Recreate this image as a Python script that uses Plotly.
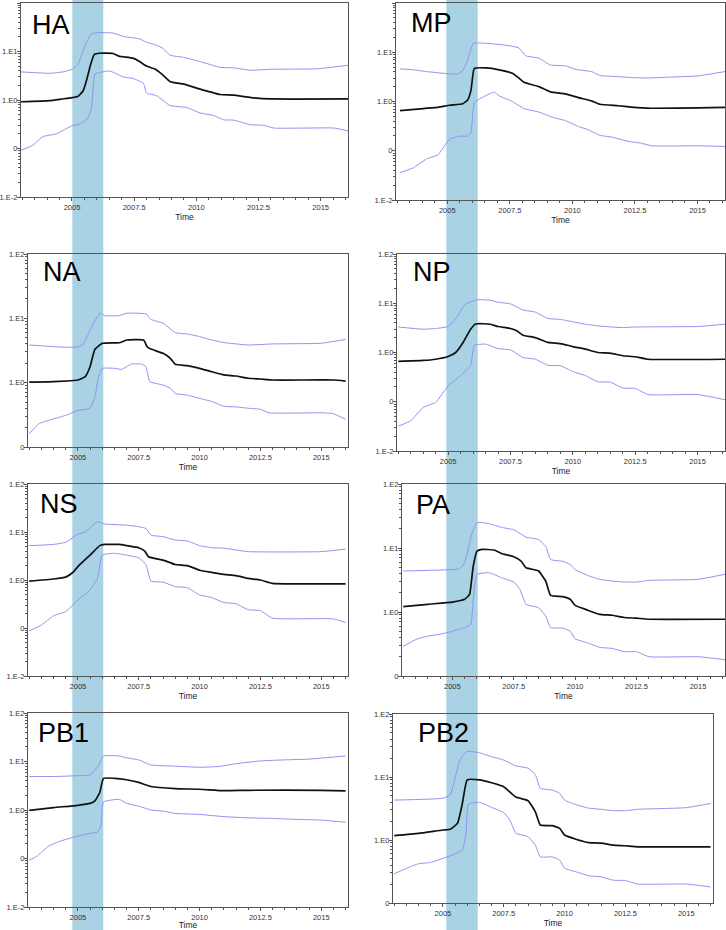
import plotly.graph_objects as go

# Bayesian skyline plots, one panel per influenza segment
W, H = 726, 930

PANELS = ["HA", "MP", "NA", "NP", "NS", "PA", "PB1", "PB2"]

# (time, value) pairs: upper 95% HPD, median, lower 95% HPD
HA_UPPER = [(2002.95, 3.8), (2004.1, 3.55), (2004.64, 3.8), (2005.0, 4.3), (2005.24, 5.4),
            (2005.51, 12.8), (2005.78, 23.3), (2006.12, 24.5), (2006.66, 24.0), (2007.06, 20.5),
            (2007.73, 18.1), (2008.0, 15.5), (2008.4, 13.5), (2008.67, 11.5), (2008.94, 8.4),
            (2009.48, 7.6), (2010.15, 6.2), (2010.96, 4.7), (2011.5, 4.6), (2012.17, 4.1),
            (2012.98, 4.3), (2014.87, 4.4), (2016.1, 5.2)]
HA_MEDIAN = [(2002.95, 0.92), (2004.1, 0.97), (2004.6, 1.05), (2005.0, 1.12), (2005.25, 1.2),
             (2005.45, 1.55), (2005.6, 2.7), (2005.75, 5.4), (2005.9, 8.7), (2006.1, 9.2),
             (2006.65, 9.1), (2006.9, 8.0), (2007.45, 7.3), (2007.7, 6.3), (2008.0, 5.0),
             (2008.35, 4.3), (2008.65, 3.3), (2008.95, 2.37), (2009.5, 2.12), (2010.15, 1.68),
             (2010.95, 1.3), (2011.5, 1.26), (2012.2, 1.12), (2013.0, 1.05), (2016.1, 1.05)]
HA_LOWER = [(2002.95, 0.092), (2003.43, 0.117), (2003.83, 0.176), (2004.37, 0.2), (2005.0, 0.295),
            (2005.31, 0.32), (2005.61, 0.41), (2005.78, 0.65), (2005.92, 3.4), (2006.12, 3.7),
            (2006.52, 3.96), (2007.06, 3.0), (2007.46, 2.77), (2007.87, 2.22), (2008.0, 1.39),
            (2008.4, 1.23), (2008.94, 0.77), (2009.62, 0.7), (2010.15, 0.54), (2010.69, 0.48),
            (2011.1, 0.39), (2011.5, 0.385), (2012.17, 0.31), (2012.71, 0.3), (2013.12, 0.264),
            (2015.54, 0.264), (2016.1, 0.23)]

MP_UPPER = [(2003.11, 4.6), (2003.64, 4.4), (2004.17, 4.05), (2005.09, 3.64), (2005.42, 3.64),
            (2005.62, 4.25), (2005.82, 7.0), (2006.04, 15.2), (2006.55, 15.2), (2007.34, 13.9),
            (2007.87, 12.2), (2008.13, 8.5), (2008.66, 7.6), (2009.12, 5.5), (2009.72, 5.3),
            (2010.11, 4.5), (2010.77, 4.05), (2011.1, 3.37), (2011.83, 3.2), (2012.36, 3.07),
            (2013.02, 3.0), (2013.68, 3.1), (2015.0, 3.3), (2016.1, 4.05)]
MP_MEDIAN = [(2003.11, 0.65), (2004.04, 0.72), (2004.63, 0.76), (2005.09, 0.84), (2005.62, 0.9),
             (2005.82, 1.08), (2005.95, 1.72), (2006.08, 4.7), (2006.55, 4.8), (2007.07, 4.4),
             (2007.6, 3.75), (2007.87, 2.97), (2008.06, 2.46), (2008.66, 2.0), (2009.12, 1.57),
             (2009.72, 1.43), (2010.24, 1.2), (2010.77, 1.03), (2011.1, 0.88), (2011.83, 0.82),
             (2012.36, 0.77), (2013.15, 0.73), (2016.1, 0.76)]
MP_LOWER = [(2003.11, 0.036), (2003.64, 0.045), (2004.17, 0.068), (2004.63, 0.083), (2005.09, 0.172),
            (2005.49, 0.198), (2005.82, 0.198), (2005.95, 0.236), (2006.08, 0.95), (2006.41, 1.22),
            (2006.88, 1.55), (2007.07, 1.3), (2007.6, 1.0), (2008.06, 0.72), (2008.66, 0.61),
            (2009.19, 0.48), (2009.72, 0.41), (2010.24, 0.31), (2010.64, 0.266), (2011.1, 0.205),
            (2011.57, 0.19), (2012.23, 0.155), (2012.75, 0.143), (2013.15, 0.126), (2015.0, 0.126),
            (2016.1, 0.122)]

NA_UPPER = [(2003.0, 3.85), (2004.5, 3.55), (2005.0, 3.6), (2005.2, 3.85), (2005.5, 6.5),
            (2005.9, 12.0), (2006.1, 11.0), (2006.7, 11.0), (2007.0, 12.0), (2007.8, 11.7),
            (2008.0, 9.6), (2008.5, 8.4), (2009.0, 6.0), (2009.5, 5.7), (2010.0, 5.2),
            (2010.5, 4.6), (2011.0, 4.2), (2012.0, 3.85), (2013.0, 4.0), (2015.0, 4.1), (2016.0, 4.7)]
NA_MEDIAN = [(2003.0, 1.02), (2004.0, 1.04), (2005.0, 1.1), (2005.3, 1.24), (2005.5, 1.77),
             (2005.7, 3.3), (2006.0, 4.08), (2006.7, 4.17), (2007.0, 4.6), (2007.7, 4.6),
             (2007.85, 3.6), (2008.0, 3.33), (2008.5, 2.86), (2008.8, 2.39), (2009.0, 1.93),
             (2009.5, 1.84), (2010.0, 1.67), (2010.5, 1.48), (2011.0, 1.32), (2011.5, 1.27),
             (2012.0, 1.17), (2012.5, 1.14), (2013.0, 1.1), (2015.5, 1.1), (2016.0, 1.06)]
NA_LOWER = [(2003.0, 0.16), (2003.4, 0.23), (2003.8, 0.26), (2004.5, 0.31), (2005.0, 0.37),
            (2005.5, 0.4), (2005.7, 0.6), (2005.85, 1.24), (2006.0, 1.67), (2006.5, 1.67),
            (2006.8, 1.61), (2007.2, 1.95), (2007.6, 1.95), (2007.8, 1.77), (2007.95, 1.04),
            (2008.5, 0.92), (2008.8, 0.82), (2009.0, 0.68), (2009.5, 0.64), (2010.0, 0.57),
            (2010.5, 0.51), (2011.0, 0.43), (2011.5, 0.42), (2012.0, 0.4), (2012.5, 0.385),
            (2012.85, 0.34), (2015.0, 0.34), (2015.5, 0.33), (2016.0, 0.27)]

NP_UPPER = [(2003.0, 3.3), (2004.0, 2.97), (2004.5, 3.07), (2005.0, 3.37), (2005.3, 4.8),
            (2005.7, 9.7), (2006.2, 11.8), (2006.7, 11.5), (2007.0, 10.5), (2007.5, 9.7),
            (2008.0, 7.3), (2008.5, 6.6), (2009.0, 4.9), (2009.5, 4.7), (2010.0, 4.2),
            (2010.5, 3.75), (2011.0, 3.47), (2012.0, 3.2), (2012.5, 3.3), (2015.0, 3.37), (2016.1, 3.75)]
NP_MEDIAN = [(2003.0, 0.66), (2004.0, 0.69), (2004.5, 0.73), (2005.0, 0.83), (2005.3, 1.0),
             (2005.6, 1.6), (2005.9, 2.97), (2006.1, 3.8), (2006.7, 3.75), (2007.0, 3.37),
             (2007.5, 3.07), (2007.75, 2.75), (2008.0, 2.25), (2008.5, 2.0), (2009.0, 1.6),
             (2009.5, 1.52), (2010.0, 1.32), (2010.5, 1.17), (2011.0, 1.0), (2011.5, 0.97),
             (2012.0, 0.86), (2012.5, 0.82), (2013.0, 0.73), (2016.1, 0.73)]
NP_LOWER = [(2003.0, 0.032), (2003.5, 0.041), (2004.0, 0.077), (2004.5, 0.097), (2005.0, 0.21),
            (2005.5, 0.34), (2005.9, 0.54), (2006.05, 1.4), (2006.5, 1.48), (2007.0, 1.2),
            (2007.5, 1.13), (2008.0, 0.79), (2008.5, 0.73), (2009.0, 0.55), (2009.5, 0.54),
            (2010.0, 0.41), (2010.5, 0.34), (2011.0, 0.255), (2011.5, 0.25), (2012.0, 0.19),
            (2012.5, 0.187), (2013.0, 0.14), (2015.0, 0.14), (2016.1, 0.11)]

NS_UPPER = [(2003.0, 5.2), (2004.0, 5.5), (2004.5, 6.1), (2005.0, 9.0), (2005.3, 10.0),
            (2005.8, 16.4), (2006.1, 14.7), (2007.0, 13.9), (2007.5, 12.9), (2007.8, 11.8),
            (2008.0, 8.6), (2008.5, 8.0), (2009.0, 6.8), (2009.5, 6.5), (2010.0, 5.2),
            (2010.5, 4.7), (2011.0, 4.6), (2012.0, 3.9), (2015.0, 3.9), (2016.0, 4.4)]
NS_MEDIAN = [(2003.0, 0.95), (2004.0, 1.05), (2004.5, 1.15), (2004.8, 1.45), (2005.0, 1.9),
             (2005.5, 3.3), (2005.9, 5.2), (2006.1, 5.5), (2006.7, 5.5), (2007.0, 5.2),
             (2007.5, 4.7), (2007.75, 4.0), (2007.9, 3.06), (2008.5, 2.6), (2009.0, 2.1),
             (2009.5, 2.0), (2010.0, 1.6), (2010.5, 1.44), (2011.0, 1.31), (2011.5, 1.23),
             (2012.0, 1.08), (2012.5, 1.0), (2013.0, 0.85), (2016.0, 0.83)]
NS_LOWER = [(2003.0, 0.087), (2003.5, 0.115), (2004.0, 0.18), (2004.5, 0.22), (2005.0, 0.38),
            (2005.5, 0.62), (2005.8, 1.08), (2006.0, 3.3), (2006.5, 3.6), (2007.0, 3.3),
            (2007.5, 2.9), (2007.8, 2.1), (2008.0, 0.95), (2008.5, 0.9), (2009.0, 0.73),
            (2009.5, 0.69), (2010.0, 0.49), (2010.5, 0.43), (2011.0, 0.34), (2011.5, 0.32),
            (2012.0, 0.24), (2012.5, 0.23), (2013.0, 0.16), (2015.5, 0.155), (2016.0, 0.13)]

PA_UPPER = [(2003.0, 4.37), (2005.0, 4.6), (2005.3, 4.75), (2005.5, 5.9), (2005.8, 17.0),
            (2006.0, 25.0), (2006.5, 24.0), (2007.0, 21.0), (2007.5, 19.3), (2008.0, 14.8),
            (2008.5, 13.6), (2008.8, 10.6), (2009.0, 6.6), (2009.5, 6.2), (2009.8, 5.5),
            (2010.0, 4.6), (2010.5, 3.74), (2011.0, 3.24), (2011.5, 3.05), (2012.0, 2.94),
            (2012.5, 2.94), (2013.0, 3.12), (2015.0, 3.24), (2016.1, 3.88)]
PA_MEDIAN = [(2003.0, 1.21), (2004.0, 1.32), (2005.0, 1.43), (2005.5, 1.58), (2005.7, 1.89),
             (2005.85, 5.2), (2006.0, 8.9), (2006.2, 9.5), (2006.7, 9.3), (2007.0, 8.2),
             (2007.5, 7.3), (2007.8, 6.25), (2008.0, 4.9), (2008.5, 4.4), (2008.8, 3.05),
             (2009.0, 1.82), (2009.5, 1.74), (2009.8, 1.58), (2010.0, 1.27), (2010.5, 1.07),
             (2011.0, 0.92), (2011.5, 0.89), (2012.0, 0.82), (2012.5, 0.8), (2013.0, 0.77),
             (2016.1, 0.77)]
PA_LOWER = [(2003.0, 0.29), (2003.5, 0.37), (2004.0, 0.42), (2004.5, 0.45), (2005.0, 0.5),
            (2005.5, 0.57), (2005.75, 0.64), (2005.85, 1.58), (2006.0, 3.87), (2006.5, 4.1),
            (2007.0, 3.44), (2007.5, 2.94), (2007.75, 2.26), (2008.0, 1.32), (2008.5, 1.17),
            (2008.8, 0.87), (2009.0, 0.57), (2009.5, 0.56), (2009.8, 0.5), (2010.0, 0.38),
            (2010.5, 0.33), (2011.0, 0.28), (2011.5, 0.27), (2012.0, 0.24), (2012.5, 0.24),
            (2013.0, 0.2), (2015.0, 0.2), (2016.1, 0.18)]

PB1_UPPER = [(2003.0, 4.9), (2004.0, 4.9), (2005.0, 5.1), (2005.5, 5.3), (2005.8, 7.6),
             (2006.05, 13.0), (2006.7, 13.0), (2007.0, 11.9), (2007.5, 10.8), (2008.0, 8.5),
             (2009.0, 8.0), (2010.0, 7.6), (2010.8, 7.9), (2011.5, 9.0), (2012.5, 10.3),
             (2013.5, 10.8), (2014.5, 11.2), (2016.0, 13.0)]
PB1_MEDIAN = [(2003.0, 0.98), (2004.0, 1.12), (2005.0, 1.25), (2005.5, 1.37), (2005.7, 1.54),
              (2005.9, 2.3), (2006.05, 4.5), (2006.5, 4.5), (2007.0, 4.2), (2007.5, 3.7),
              (2008.0, 3.05), (2009.0, 2.76), (2010.0, 2.68), (2011.0, 2.5), (2012.0, 2.55),
              (2015.0, 2.55), (2016.0, 2.47)]
PB1_LOWER = [(2003.0, 0.092), (2003.3, 0.11), (2003.8, 0.18), (2004.3, 0.23), (2005.0, 0.29),
             (2005.5, 0.33), (2005.8, 0.35), (2005.95, 0.48), (2006.05, 1.46), (2006.7, 1.66),
             (2007.0, 1.37), (2007.5, 1.2), (2008.0, 1.0), (2008.5, 0.95), (2009.0, 0.85),
             (2010.0, 0.81), (2011.0, 0.73), (2012.0, 0.69), (2013.0, 0.67), (2014.0, 0.64),
             (2015.0, 0.62), (2016.0, 0.56)]

PB2_UPPER = [(2003.0, 4.3), (2005.0, 4.6), (2005.3, 5.2), (2005.7, 18.6), (2006.0, 25.5),
             (2006.5, 24.3), (2007.0, 21.0), (2007.5, 18.6), (2008.0, 15.0), (2008.5, 13.8),
             (2008.8, 10.9), (2009.0, 6.6), (2009.5, 6.2), (2009.8, 5.5), (2010.0, 4.3),
             (2010.5, 3.6), (2011.0, 3.2), (2011.5, 3.07), (2012.0, 2.92), (2012.5, 2.92),
             (2013.0, 3.07), (2015.0, 3.26), (2016.0, 3.8)]
PB2_MEDIAN = [(2003.0, 1.17), (2004.0, 1.27), (2005.0, 1.44), (2005.3, 1.48), (2005.6, 1.84),
              (2005.8, 3.8), (2006.0, 9.0), (2006.5, 9.0), (2007.0, 8.1), (2007.5, 7.0),
              (2008.0, 4.8), (2008.5, 4.2), (2008.8, 2.8), (2009.0, 1.73), (2009.5, 1.69),
              (2009.8, 1.53), (2010.0, 1.2), (2010.5, 1.02), (2011.0, 0.91), (2011.5, 0.89),
              (2012.0, 0.83), (2012.5, 0.81), (2013.0, 0.78), (2016.0, 0.78)]
PB2_LOWER = [(2003.0, 0.29), (2003.5, 0.355), (2004.0, 0.42), (2004.5, 0.44), (2005.0, 0.51),
             (2005.5, 0.6), (2005.8, 0.69), (2005.95, 1.28), (2006.05, 3.7), (2006.5, 3.96),
             (2007.0, 3.3), (2007.5, 2.72), (2007.75, 2.08), (2008.0, 1.28), (2008.5, 1.13),
             (2008.8, 0.83), (2009.0, 0.54), (2009.5, 0.54), (2009.8, 0.48), (2010.0, 0.355),
             (2010.5, 0.31), (2011.0, 0.27), (2011.5, 0.26), (2012.0, 0.23), (2012.5, 0.227),
             (2013.0, 0.2), (2015.0, 0.2), (2016.0, 0.18)]

SERIES = {
    "HA": (HA_UPPER, HA_LOWER, HA_MEDIAN),
    "MP": (MP_UPPER, MP_LOWER, MP_MEDIAN),
    "NA": (NA_UPPER, NA_LOWER, NA_MEDIAN),
    "NP": (NP_UPPER, NP_LOWER, NP_MEDIAN),
    "NS": (NS_UPPER, NS_LOWER, NS_MEDIAN),
    "PA": (PA_UPPER, PA_LOWER, PA_MEDIAN),
    "PB1": (PB1_UPPER, PB1_LOWER, PB1_MEDIAN),
    "PB2": (PB2_UPPER, PB2_LOWER, PB2_MEDIAN),
}

X_TICKVALS = [2005, 2007.5, 2010, 2012.5, 2015]
X_TICKTEXT = ["2005", "2007.5", "2010", "2012.5", "2015"]
Y_TICKVALS = [0.01, 0.1, 1, 10, 100]
Y_TICKTEXT = ["1.E-2", "0", "1.E0", "1.E1", "1.E2"]

# ── Geometry (pixels in the 726x930 page) ─────────────────────────────────────
# name: (left, right, top, bottom, lowest decade exponent)
BOXES = {
    "HA":  (21, 348, 3, 197, -2),
    "MP":  (396, 725, 3, 200, -2),
    "NA":  (28, 348, 254, 447, -1),
    "NP":  (397, 725, 254, 451, -2),
    "NS":  (28, 348, 484, 676, -2),
    "PA":  (402, 725, 484, 676, -1),
    "PB1": (28, 348, 713, 907, -2),
    "PB2": (393, 713, 714, 903, -1),
}
LABEL_POS = {  # left edge and vertical centre of the big panel label
    "HA": (30, 25), "MP": (409, 23), "NA": (41, 272), "NP": (411, 272),
    "NS": (38, 504), "PA": (414, 505), "PB1": (36, 733), "PB2": (416, 733),
}
BANDS_PX = [(72.3, 103.3), (446.3, 477.7)]

X_RANGE = [2002.95, 2016.1]
BLUE = "#9292f2"
AXIS = "#555555"
FONT = "Liberation Sans, Arial, sans-serif"

MINOR_Y = [k * 10.0 ** e for e in range(-2, 2) for k in range(2, 10)]
MINOR_X = [2003 + 0.5 * k for k in range(27)]


def px_x(v):
    return v / W


def px_y(v):
    return 1 - v / H


fig = go.Figure()

for i, name in enumerate(PANELS, start=1):
    upper, lower, median = SERIES[name]
    xa = "x" if i == 1 else f"x{i}"
    ya = "y" if i == 1 else f"y{i}"
    for pts, color, width in ((upper, BLUE, 1), (lower, BLUE, 1), (median, "#111111", 1.7)):
        fig.add_trace(go.Scatter(
            x=[p[0] for p in pts],
            y=[p[1] for p in pts],
            mode="lines",
            line=dict(color=color, width=width, shape="spline", smoothing=0.4),
            xaxis=xa, yaxis=ya,
            showlegend=False,
            hoverinfo="skip",
        ))

    left, right, top, bottom, lo_exp = BOXES[name]
    axis_common = dict(
        showline=True, mirror=True, linecolor=AXIS, linewidth=1,
        ticks="outside", ticklen=3, tickcolor=AXIS,
        showgrid=False, zeroline=False, automargin=False,
        tickfont=dict(family=FONT, size=7.5, color="#333333"),
    )
    fig.layout[f"xaxis{i}"] = dict(
        axis_common,
        domain=[px_x(left), px_x(right)],
        anchor=ya,
        range=X_RANGE,
        tickmode="array", tickvals=X_TICKVALS, ticktext=X_TICKTEXT,
        minor=dict(tickmode="array", tickvals=MINOR_X, ticks="outside", ticklen=2, tickcolor=AXIS),
        title=dict(text="Time", font=dict(family=FONT, size=8.5, color="#222222"), standoff=1),
    )
    fig.layout[f"yaxis{i}"] = dict(
        axis_common,
        domain=[px_y(bottom), px_y(top)],
        anchor=xa,
        type="log",
        range=[lo_exp, 2],
        tickmode="array",
        tickvals=Y_TICKVALS,
        ticktext=Y_TICKTEXT,
        ticklabelstandoff=-2,
        minor=dict(tickmode="array", tickvals=MINOR_Y, ticks="outside", ticklen=2, tickcolor=AXIS),
    )

    lx, ly = LABEL_POS[name]
    fig.add_annotation(
        text=name, xref="paper", yref="paper",
        x=px_x(lx), y=px_y(ly), xanchor="left", yanchor="middle",
        showarrow=False,
        font=dict(family=FONT, size=27, color="#000000"),
    )

# the highlighted period runs through the whole column
for x0, x1 in BANDS_PX:
    fig.add_shape(
        type="rect", xref="paper", yref="paper",
        x0=px_x(x0), x1=px_x(x1), y0=0, y1=1,
        fillcolor="#a9d2e5", line=dict(width=0), layer="below",
    )

fig.update_layout(
    width=W, height=H,
    margin=dict(l=0, r=0, t=0, b=0, autoexpand=False),
    paper_bgcolor="white",
    plot_bgcolor="rgba(0,0,0,0)",
    showlegend=False,
)

# the page's default body margin would push the figure 8px off the window
fig.write_html(
    "out.html",
    config={"displayModeBar": False},
    post_script="document.body.style.margin = '0';",
)
